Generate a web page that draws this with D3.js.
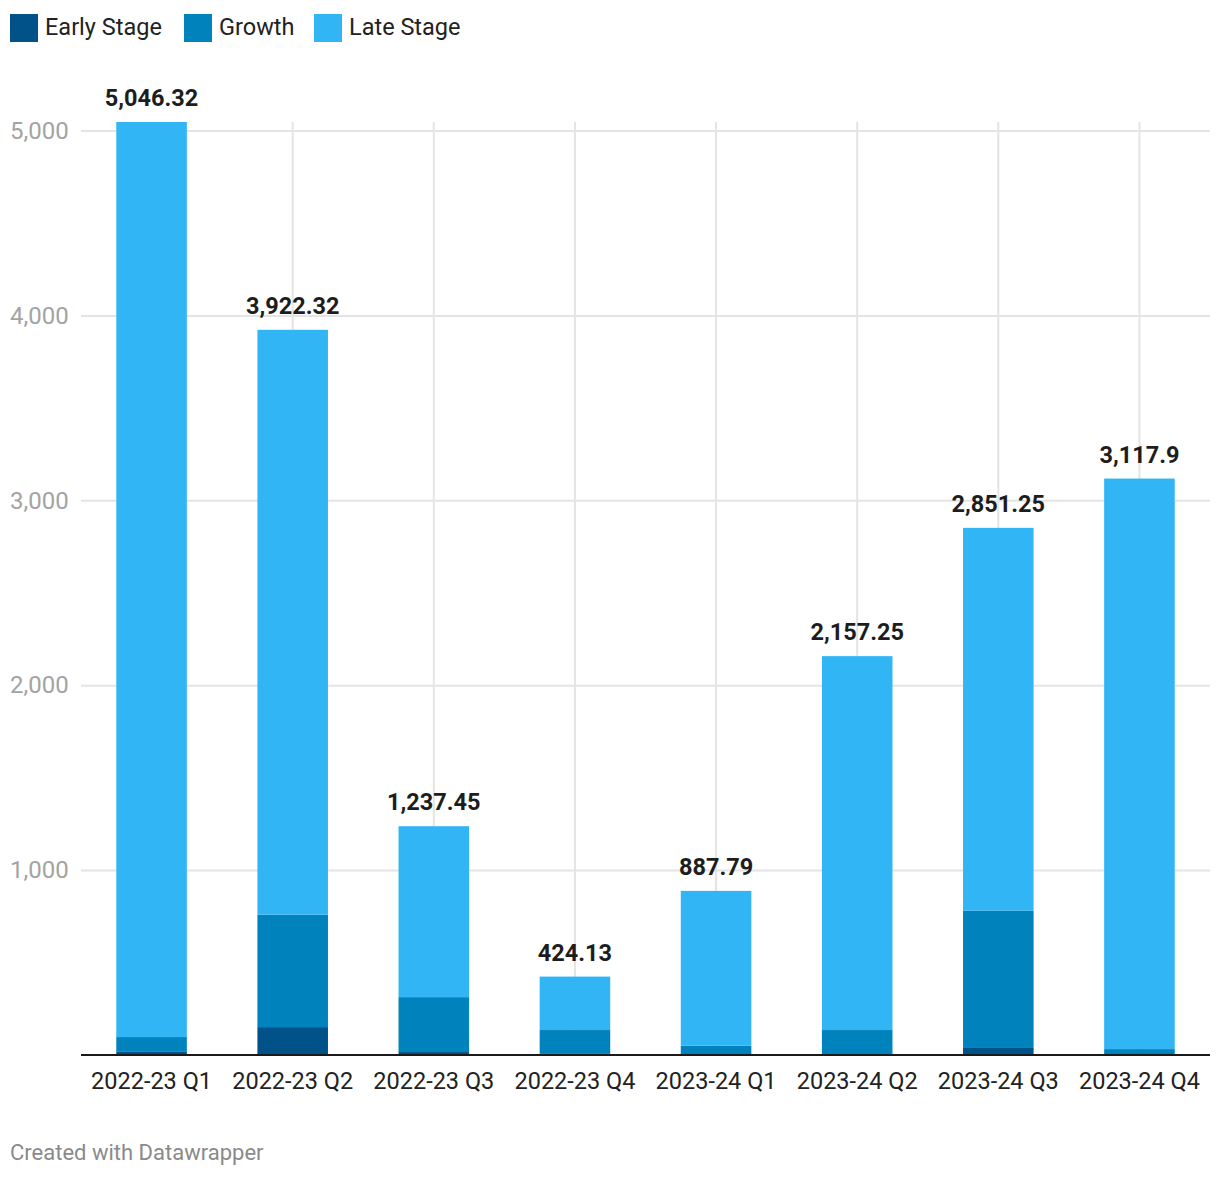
<!DOCTYPE html>
<html><head><meta charset="utf-8">
<script src="https://cdn.jsdelivr.net/npm/d3@7"></script>
<style>
body{margin:0;background:#fff;font-family:Roboto,"Noto Sans",sans-serif;}
</style></head><body>
<svg id="c" width="1220" height="1178"></svg>
<script>
const categories = ["2022-23 Q1","2022-23 Q2","2022-23 Q3","2022-23 Q4","2023-24 Q1","2023-24 Q2","2023-24 Q3","2023-24 Q4"];
const seriesNames = ["Early Stage","Growth","Late Stage"];
const earlyStage = [17, 151, 16, 6, 0, 0, 38, 0];
const growth = [80, 608, 297, 129, 50, 135, 742, 32];
const totals = [5046.32, 3922.32, 1237.45, 424.13, 887.79, 2157.25, 2851.25, 3117.9];
const lateStage = totals.map((t,i)=>+(t - earlyStage[i] - growth[i]).toFixed(2));
const yTicks = [1000, 2000, 3000, 4000, 5000];
const colors = ["#005288","#0082bc","#32b5f5"];

const svg = d3.select("#c");
const m = {left:81, right:1210, top:122, bottom:1055};
const x = d3.scaleBand().domain(categories).range([m.left, m.right]).paddingInner(0.5).paddingOuter(0.25);
const y = d3.scaleLinear().domain([0, 5046.32]).range([m.bottom, m.top]);

// horizontal grid
const gy = svg.append("g").attr("transform",`translate(${m.left},0)`)
  .call(d3.axisLeft(y).tickValues(yTicks).tickSize(-(m.right-m.left)).tickFormat(d3.format(",")));
gy.select(".domain").remove();
gy.selectAll(".tick line").attr("stroke","#e4e4e4").attr("stroke-width",2);
gy.selectAll(".tick text").attr("x",-71).attr("text-anchor","start").attr("fill","#a3a3a3")
  .style("font-family","Roboto").style("font-size","24px");

// vertical grid
svg.append("g").selectAll("line").data(categories).join("line")
  .attr("x1",d=>x(d)+x.bandwidth()/2).attr("x2",d=>x(d)+x.bandwidth()/2)
  .attr("y1",m.top).attr("y2",m.bottom).attr("stroke","#e4e4e4").attr("stroke-width",2);

// stacked bars
const rows = categories.map((c,i)=>({cat:c, "Early Stage":earlyStage[i], "Growth":growth[i], "Late Stage":lateStage[i]}));
const stack = d3.stack().keys(seriesNames)(rows);
svg.append("g").selectAll("g").data(stack).join("g").attr("fill",(d,i)=>colors[i])
  .selectAll("rect").data(d=>d).join("rect")
  .attr("x",d=>x(d.data.cat)).attr("width",x.bandwidth())
  .attr("y",d=>y(d[1])).attr("height",d=>y(d[0])-y(d[1]));

// x axis
const gx = svg.append("g").attr("transform",`translate(0,${m.bottom})`)
  .call(d3.axisBottom(x).tickSize(0).tickPadding(17));
gx.select(".domain").attr("stroke","#1a1a1a").attr("stroke-width",2).attr("d",`M${m.left},0H${m.right}`);
gx.selectAll(".tick text").attr("fill","#222").style("font-family","Roboto").style("font-size","23.5px");

// totals labels
svg.append("g").selectAll("text").data(categories).join("text")
  .attr("x",d=>x(d)+x.bandwidth()/2).attr("y",(d,i)=>y(totals[i])-16)
  .attr("text-anchor","middle").attr("fill","#1d1d1d").style("font-weight","700")
  .style("font-size","23.5px").style("font-family","Roboto")
  .text((d,i)=>d3.format(",")(totals[i]));

// legend
const legX = [10, 184, 314];
const lg = svg.append("g").selectAll("g").data(seriesNames).join("g")
  .attr("transform",(d,i)=>`translate(${legX[i]},14)`);
lg.append("rect").attr("width",28).attr("height",28).attr("fill",(d,i)=>colors[i]);
lg.append("text").attr("x",35).attr("y",21).attr("fill","#222")
  .style("font-family","Roboto").style("font-size","23.5px").text(d=>d);

// footer
svg.append("text").attr("x",10).attr("y",1160).attr("fill","#8a8a8a")
  .style("font-family","Roboto").style("font-size","22px").text("Created with Datawrapper");
</script>
</body></html>
